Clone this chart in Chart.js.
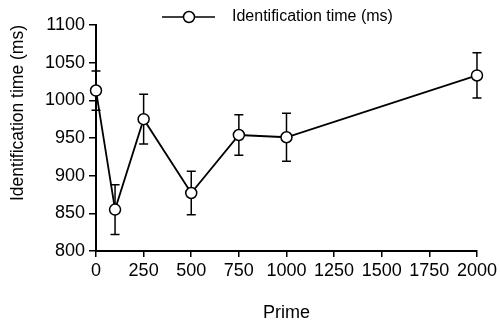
<!DOCTYPE html>
<html>
<head>
<meta charset="utf-8">
<script src="https://cdn.jsdelivr.net/npm/chart.js@4"></script>
<style>
  html, body { margin: 0; padding: 0; background: #fff; }
  #wrap { width: 500px; height: 324px; }
</style>
</head>
<body>
<div id="wrap"><canvas id="wykres" width="500" height="324"></canvas></div>
<script>
// dane
const primes = [0, 100, 250, 500, 750, 1000, 2000];
const czasy = [1013, 855, 975, 877, 954, 951, 1033];
const bledy = [26, 33, 33, 29, 27, 32, 30];
const seriesLabel = 'Identification time (ms)';

const FONT = '"Liberation Sans", Arial, Helvetica, sans-serif';

// wąsy błędów rysowane pod punktami, przez skale wykresu
const errorBars = {
    id: 'errorBars',
    beforeDatasetsDraw(chart) {
        const ctx = chart.ctx;
        const x = chart.scales.x;
        const y = chart.scales.y;
        ctx.save();
        ctx.strokeStyle = '#000';
        ctx.lineWidth = 1.5;
        for (let i = 0; i < primes.length; i++) {
            const px = x.getPixelForValue(primes[i]);
            const top = y.getPixelForValue(czasy[i] + bledy[i]);
            const bot = y.getPixelForValue(czasy[i] - bledy[i]);
            ctx.beginPath();
            ctx.moveTo(px, top); ctx.lineTo(px, bot);
            ctx.moveTo(px - 4.5, top); ctx.lineTo(px + 4.5, top);
            ctx.moveTo(px - 4.5, bot); ctx.lineTo(px + 4.5, bot);
            ctx.stroke();
        }
        ctx.restore();
    }
};

// legenda: linia z kółkiem + tekst
const legendaLinia = {
    id: 'legendaLinia',
    afterDraw(chart) {
        const ctx = chart.ctx;
        const ly = 17;
        ctx.save();
        ctx.strokeStyle = '#000';
        ctx.lineWidth = 1.5;
        ctx.beginPath();
        ctx.moveTo(162, ly); ctx.lineTo(215, ly);
        ctx.stroke();
        ctx.beginPath();
        ctx.arc(189, ly, 5.5, 0, Math.PI * 2);
        ctx.fillStyle = '#fff';
        ctx.fill();
        ctx.stroke();
        ctx.fillStyle = '#000';
        ctx.font = '16px ' + FONT;
        ctx.textBaseline = 'middle';
        ctx.fillText(seriesLabel, 232, ly);
        ctx.restore();
    }
};

const ctx = document.getElementById('wykres').getContext('2d');
const chart = new Chart(ctx, {
    type: 'line',
    data: {
        datasets: [{
            label: seriesLabel,
            data: primes.map((p, i) => ({ x: p, y: czasy[i] })),
            borderColor: '#000',
            borderWidth: 1.8,
            backgroundColor: '#fff',
            pointRadius: 5.5,
            pointBorderWidth: 1.5,
            pointBackgroundColor: '#fff',
            pointBorderColor: '#000',
            tension: 0,
            clip: false
        }]
    },
    options: {
        responsive: false,
        animation: false,
        layout: { padding: { top: 25, right: 21, left: 0, bottom: 0 } },
        plugins: {
            legend: { display: false },
            tooltip: { enabled: false }
        },
        scales: {
            x: {
                type: 'linear',
                min: 0,
                max: 2000,
                ticks: { stepSize: 250, color: '#000', padding: 3, maxRotation: 0, autoSkip: false,
                    font: { family: FONT, size: 18 }, callback: v => String(v) },
                grid: { drawOnChartArea: false, drawTicks: true, tickLength: 6, color: '#000', lineWidth: 1.5 },
                border: { color: '#000', width: 2 },
                title: { display: true, text: 'Prime', color: '#000', font: { family: FONT, size: 18 }, padding: { top: 4, bottom: 0 } },
                afterFit(scale) { scale.height = 73; }
            },
            y: {
                min: 800,
                max: 1100,
                ticks: { stepSize: 50, color: '#000', padding: 4, font: { family: FONT, size: 18 }, callback: v => String(v) },
                grid: { drawOnChartArea: false, drawTicks: true, tickLength: 7, color: '#000', lineWidth: 1.5 },
                border: { color: '#000', width: 2 },
                title: { display: true, text: 'Identification time (ms)', align: 'end', color: '#000', font: { family: FONT, size: 17.5 }, padding: { top: 8, bottom: 2 } },
                afterFit(scale) { scale.width = 96; }
            }
        }
    },
    plugins: [errorBars, legendaLinia]
});
</script>
</body>
</html>
